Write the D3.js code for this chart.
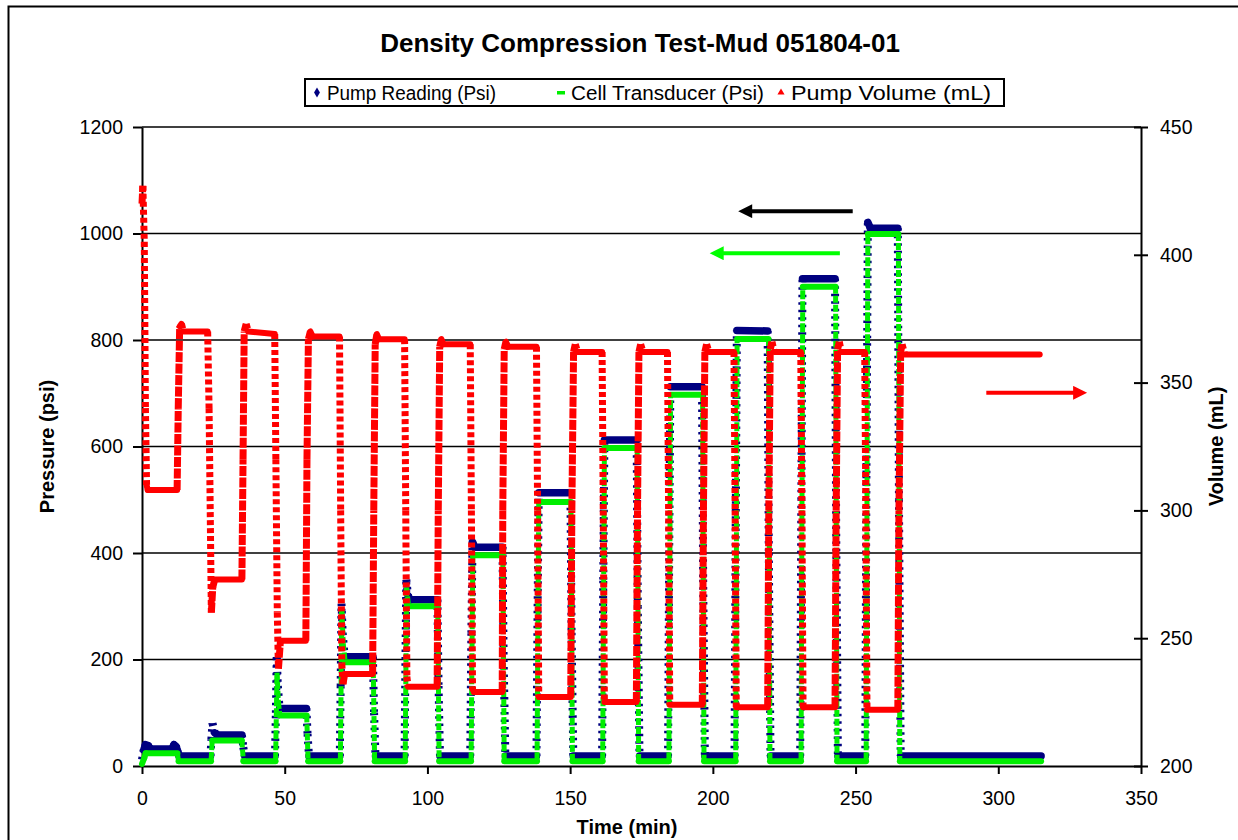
<!DOCTYPE html>
<html><head><meta charset="utf-8">
<script src="https://cdn.jsdelivr.net/npm/d3@7"></script>
<style>
body{margin:0;background:#fff;}
text{font-family:"Liberation Sans", Arial, sans-serif;}
</style>
</head><body>
<svg id="chart" width="1238" height="840"></svg>
<script>
// ---------------- DATA ----------------
const chartTitle = "Density Compression Test-Mud 051804-01";
const timeTicks = [0, 50, 100, 150, 200, 250, 300, 350];
const pressureTicks = [0, 200, 400, 600, 800, 1000, 1200];
const volumeTicks = [200, 250, 300, 350, 400, 450];
const seriesNames = ["Pump Reading (Psi)", "Cell Transducer (Psi)", "Pump Volume (mL)"];

// [time (min), psi]
const pumpReading = [
  [0,12],[0.6,30],[1.2,40],[2.2,38],[3,32],[10.5,32],[11.2,40],[12,36],[12.5,28],[13,19],
  [24,19],[24.3,50],[24.7,80],[25.5,62],[26.5,58],[35,58],[35.5,35],[36,19],
  [46.6,19],[46.9,100],[47.2,205],[47.6,150],[48.2,108],[57.6,108],[58,60],[58.5,19],
  [69.3,19],[69.6,150],[69.9,305],[70.3,250],[71,205],[80.9,205],[81.3,100],[81.8,19],
  [92,19],[92.3,200],[92.6,350],[93.2,320],[94,312],[103.5,312],[103.9,150],[104.4,19],
  [115,19],[115.4,250],[115.8,421],[116.5,411],[126.3,411],[126.7,200],[127.3,19],
  [138.2,19],[138.6,300],[139,513],[150.1,513],[150.5,250],[151.1,19],
  [161.2,19],[161.6,350],[162,612],[173.3,612],[173.7,300],[174.3,19],
  [184.3,19],[184.7,400],[185.1,712],[196.2,712],[196.6,350],[197.2,19],
  [207.6,19],[208,450],[208.4,818],[219.2,817],[219.6,400],[220.2,19],
  [230.6,19],[231,500],[231.4,915],[242.8,915],[243.2,450],[243.8,19],
  [253.4,19],[253.8,550],[254.3,1021],[255.2,1010],[264.8,1010],[265.2,500],[265.8,19],
  [315,19]
];

// [time (min), psi]
const cellTransducer = [
  [0,4],[0.8,15],[1.3,24],[12.4,24],[12.8,9],
  [24.2,9],[24.6,48],[35,48],[35.5,9],
  [46.8,9],[47.3,175],[47.8,120],[48.3,95],[57.7,95],[58.2,9],
  [69.5,9],[70,293],[70.5,230],[71.2,195],[81,195],[81.5,9],
  [92.2,9],[92.7,335],[93.4,300],[103.6,300],[104.1,9],
  [115.3,9],[115.9,396],[126.4,396],[126.9,9],
  [138.4,9],[139,496],[150.3,496],[150.8,9],
  [161.4,9],[162,597],[173.5,597],[174,9],
  [184.6,9],[185.2,697],[196.4,697],[196.9,9],
  [208,9],[208.5,802],[219.5,802],[220,9],
  [230.9,9],[231.5,900],[243,900],[243.5,9],
  [253.7,9],[254.3,999],[265,999],[265.5,9],
  [315,9]
];

// [time (min), mL]
const pumpVolume = [
  [0,420],[0.3,427],[0.8,405],[1.2,340],[1.6,310],[2,308],[12.3,308],
  [12.7,340],[13.2,372],[13.8,373],[14.5,370],[23,370],
  [23.5,340],[24,290],[24.3,260],[24.8,270],[25.5,273],[35,273],
  [35.4,320],[35.8,370],[36.5,373],[37.2,370],[46.5,369],
  [46.9,320],[47.4,260],[47.8,238],[48.5,249],[57.4,249],
  [57.8,320],[58.3,367],[59,370],[59.8,368],[69.2,368],
  [69.6,300],[70,240],[70.4,232],[71,236],[80.8,236],
  [81.2,300],[81.7,365],[82.3,369],[83,367],[92,367],
  [92.4,300],[92.8,235],[93.2,231],[103.4,231],
  [103.8,300],[104.3,364],[104.9,367],[105.6,365],[115,365],
  [115.4,300],[115.8,230],[116.3,229],[126.2,229],
  [126.4,300],[126.9,363],[127.5,366],[128.3,364],[138.2,364],
  [138.6,300],[139,227],[150.2,227],
  [150.6,300],[151.2,362],[151.8,365],[152.6,362],[161.2,362],
  [161.6,300],[162,225],[173.2,225],
  [173.6,300],[174.1,362],[174.7,365],[175.5,362],[184.1,362],
  [184.5,300],[184.9,224],[196.3,224],
  [196.7,300],[197.2,362],[197.8,365],[198.6,362],[207.4,362],
  [207.8,300],[208.2,223],[219.2,223],
  [219.6,300],[220.1,363],[220.7,366],[221.5,362],[230.8,362],
  [231.2,300],[231.6,223],[242.8,223],
  [243.2,300],[243.7,363],[244.3,366],[245,362],[253.2,362],
  [253.6,300],[254,222],[264.8,222],
  [265.2,300],[265.8,362],[266.3,365],[267.2,361],[314.5,361]
];

// annotation arrows: start time, end time, level, axis
const arrowNotes = [
  {from:249, to:210, value:1042, axis:"left", color:"#000000"},
  {from:244.5, to:200, value:963, axis:"left", color:"#00ff00"},
  {from:295.8, to:330, value:346, axis:"right", color:"#ff0000"}
];

// ---------------- CHART ----------------
const svg = d3.select("#chart");
const plot = {left:142, right:1141, top:127, bottom:766};

const x = d3.scaleLinear().domain([0,350]).range([plot.left, plot.right]);
const yL = d3.scaleLinear().domain([0,1200]).range([plot.bottom, plot.top]);
const yR = d3.scaleLinear().domain([200,450]).range([plot.bottom, plot.top]);

// outer border
svg.append("rect").attr("x",8.5).attr("y",6.5).attr("width",1240).attr("height",850)
  .attr("fill","#fff").attr("stroke","#000").attr("stroke-width",2);

// gridlines
svg.append("g").selectAll("line").data(pressureTicks.filter(d=>d>0)).join("line")
  .attr("x1",plot.left).attr("x2",plot.right)
  .attr("y1",d=>yL(d)).attr("y2",d=>yL(d))
  .attr("stroke","#000").attr("stroke-width",1.5);

// axes
const fontTick = 19.5;
const fmt = d3.format("d");
const axL = svg.append("g").attr("transform",`translate(${plot.left},0)`)
  .call(d3.axisLeft(yL).tickValues(pressureTicks).tickFormat(fmt).tickSize(9).tickPadding(10).tickSizeOuter(0));
const axR = svg.append("g").attr("transform",`translate(${plot.right},0)`)
  .call(d3.axisRight(yR).tickValues(volumeTicks).tickFormat(fmt).tickSize(7).tickPadding(12).tickSizeOuter(0));
axR.selectAll(".tick line").attr("x1",-7);
const axB = svg.append("g").attr("transform",`translate(0,${plot.bottom})`)
  .call(d3.axisBottom(x).tickValues(timeTicks).tickFormat(fmt).tickSize(8).tickPadding(17).tickSizeOuter(0));
[axL,axR,axB].forEach(a=>{
  a.select(".domain").attr("stroke","#000").attr("stroke-width",2);
  a.selectAll(".tick line").attr("stroke","#000").attr("stroke-width",2);
  a.selectAll(".tick text").attr("font-size",fontTick).attr("fill","#000")
    .attr("font-family","Liberation Sans, Arial, sans-serif");
});

// series
function drawSeries(data, yScale, color, o){
  const g = svg.append("g");
  for(let i=1;i<data.length;i++){
    const [t0,v0]=data[i-1], [t1,v1]=data[i];
    const x0=x(t0), y0=yScale(v0), x1=x(t1), y1=yScale(v1);
    const steep = Math.abs(y1-y0) > 2*Math.abs(x1-x0) && Math.abs(y1-y0) > 6;
    g.append("line").attr("x1",x0).attr("y1",y0).attr("x2",x1).attr("y2",y1)
      .attr("stroke",color)
      .attr("stroke-width", steep ? o.steepW : o.flatW)
      .attr("stroke-linecap", steep ? "butt" : "round")
      .attr("stroke-dasharray", steep ? (v1<v0 ? o.dashDown : o.dashUp) : null);
  }
}
drawSeries(pumpReading, yL, "#000080", {flatW:7.5, steepW:8, dashDown:"2.5,5", dashUp:"2.5,5"});
drawSeries(cellTransducer, yL, "#00ee00", {flatW:6, steepW:5, dashDown:"7,2", dashUp:"9,2"});
drawSeries(pumpVolume, yR, "#ff0000", {flatW:6, steepW:7, dashDown:"5,3", dashUp:"10,1.5"});

// arrows
const defs = svg.append("defs");
arrowNotes.forEach((a,i)=>{
  defs.append("marker").attr("id","ah"+i).attr("viewBox","0 0 10 10").attr("refX",2).attr("refY",5)
    .attr("markerWidth",4.5).attr("markerHeight",3.5).attr("orient","auto")
    .attr("markerUnits","strokeWidth")
    .append("path").attr("d","M0,0 L10,5 L0,10 z").attr("fill",a.color);
  const ys = a.axis==="left" ? yL : yR;
  const dir = Math.sign(a.to - a.from);
  svg.append("line").attr("x1",x(a.from)).attr("x2",x(a.to)-dir*8)
    .attr("y1",ys(a.value)).attr("y2",ys(a.value))
    .attr("stroke",a.color).attr("stroke-width",4)
    .attr("marker-end",`url(#ah${i})`);
});

// title
svg.append("text").attr("x",640).attr("y",52).attr("text-anchor","middle")
  .attr("font-size",26).attr("font-weight","bold").text(chartTitle);

// legend
const lg = svg.append("g");
lg.append("rect").attr("x",305).attr("y",79).attr("width",699).attr("height",27)
  .attr("fill","#fff").attr("stroke","#000").attr("stroke-width",2);
const legX = [317, 561, 781];
const legW = [169, 193, 200];
const ly = 92.5;
lg.append("path").attr("d",d3.symbol(d3.symbolDiamond, 30)()).attr("transform",`translate(${legX[0]},${ly})`).attr("fill","#000080");
lg.append("rect").attr("x",legX[1]-4).attr("y",ly-1.5).attr("width",8).attr("height",3.5).attr("fill","#00ee00");
lg.append("path").attr("d",d3.symbol(d3.symbolTriangle, 22)()).attr("transform",`translate(${legX[2]},${ly})`).attr("fill","#ff0000");
seriesNames.forEach((n,i)=>{
  lg.append("text").attr("x",legX[i]+10).attr("y",ly+7).attr("font-size",20)
    .attr("textLength",legW[i]).attr("lengthAdjust","spacingAndGlyphs").text(n);
});

// axis titles
svg.append("text").attr("transform",`translate(54,${(plot.top+plot.bottom)/2}) rotate(-90)`)
  .attr("text-anchor","middle").attr("font-size",20).attr("font-weight","bold").text("Pressure (psi)");
svg.append("text").attr("transform",`translate(1223,${(plot.top+plot.bottom)/2}) rotate(-90)`)
  .attr("text-anchor","middle").attr("font-size",20).attr("font-weight","bold").text("Volume (mL)");
svg.append("text").attr("x",627).attr("y",834).attr("text-anchor","middle")
  .attr("font-size",20).attr("font-weight","bold").text("Time (min)");
</script>
</body></html>
